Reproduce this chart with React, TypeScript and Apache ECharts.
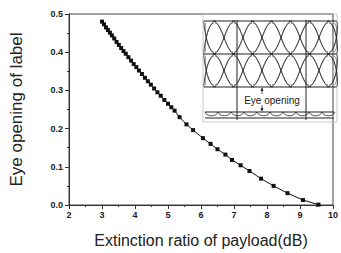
import React, { useEffect, useRef } from "react";
import * as echarts from "echarts";

const extinctionRatio = [
  3.0, 3.06, 3.12, 3.18, 3.24, 3.3, 3.37, 3.44, 3.51, 3.58, 3.65, 3.72, 3.8, 3.88, 3.96,
  4.04, 4.12, 4.21, 4.3, 4.39, 4.48, 4.58, 4.68, 4.78, 4.89, 5.0, 5.1, 5.2, 5.35, 5.56,
  5.76, 6.06, 6.29, 6.5, 6.74, 6.94, 7.2, 7.47, 7.82, 8.2, 8.62, 9.09, 9.56,
];
const eyeOpening = [
  0.48, 0.473, 0.465, 0.458, 0.451, 0.444, 0.436, 0.427, 0.419, 0.411, 0.403, 0.396, 0.387,
  0.378, 0.369, 0.361, 0.352, 0.343, 0.333, 0.324, 0.315, 0.305, 0.295, 0.286, 0.275, 0.265,
  0.256, 0.247, 0.23, 0.211, 0.196, 0.175, 0.16, 0.146, 0.132, 0.118, 0.104, 0.089, 0.069,
  0.05, 0.031, 0.013, 0.001,
];
const xTitle = "Extinction ratio of payload(dB)";
const yTitle = "Eye opening of label";
const insetLabel = "Eye opening";

function insetGraphics() {
  const els: any[] = [];
  const ink = "#222";
  const curve = (x1: number, y1: number, x2: number, y2: number, cx1: number, cy1: number, cx2: number, cy2: number, w = 0.8) => ({
    type: "bezierCurve",
    shape: { x1, y1, x2, y2, cpx1: cx1, cpy1: cy1, cpx2: cx2, cpy2: cy2 },
    style: { stroke: ink, lineWidth: w, fill: null },
    silent: true,
  });
  // frame
  els.push({ type: "rect", shape: { x: 203, y: 14, width: 134, height: 108 }, style: { fill: "rgba(0,0,0,0)", stroke: "#bbb", lineWidth: 0.8 }, silent: true });
  // eye rows: S-shaped transitions crossing at regular points
  const rows = [
    [21, 54],
    [54, 87],
  ];
  rows.forEach(([y0, y1]) => {
    for (let k = 0; k < 8; k++) {
      const xc = 205 + k * 19;
      const h = 11;
      const xa = Math.max(204, xc - h);
      const xb = Math.min(336, xc + h);
      els.push(curve(xa, y0, xb, y1, xc - 2, y0, xc + 2, y1));
      els.push(curve(xa, y1, xb, y0, xc - 2, y1, xc + 2, y0));
      els.push(curve(xa + 2, y0 + 2, xb - 2, y1 - 2, xc - 1, y0 + 3, xc + 1, y1 - 3, 0.5));
      els.push(curve(xa + 2, y1 - 2, xb - 2, y0 + 2, xc - 1, y1 - 3, xc + 1, y0 + 3, 0.5));
    }
  });
  // horizontal rails
  [21, 54, 87].forEach((y) =>
    els.push({ type: "line", shape: { x1: 204, y1: y, x2: 336, y2: y }, style: { stroke: ink, lineWidth: 1.1 }, silent: true })
  );
  // bottom (label) band
  [112, 118].forEach((y) =>
    els.push({ type: "line", shape: { x1: 205, y1: y, x2: 334, y2: y }, style: { stroke: ink, lineWidth: 1.2 }, silent: true })
  );
  for (let i = 0; i < 10; i++) {
    const x = 205 + i * 13;
    els.push(curve(x, 112, x + 13, 112, x + 2, 117, x + 11, 117));
  }
  // vertical markers
  [237, 306].forEach((x) =>
    els.push({ type: "line", shape: { x1: x, y1: 20, x2: x, y2: 120 }, style: { stroke: ink, lineWidth: 1 }, silent: true })
  );
  // arrows
  els.push({ type: "line", shape: { x1: 262, y1: 88, x2: 262, y2: 94 }, style: { stroke: ink, lineWidth: 0.8 }, silent: true });
  els.push({ type: "polygon", shape: { points: [[260.5, 91], [262, 87.5], [263.5, 91]] }, style: { fill: ink }, silent: true });
  els.push({
    type: "text",
    x: 272,
    y: 100,
    style: { text: insetLabel, fontSize: 10, fontFamily: "Liberation Sans, Arial", fill: ink, align: "center", verticalAlign: "middle", backgroundColor: "#fff" },
    silent: true,
  });
  els.push({ type: "line", shape: { x1: 262, y1: 105, x2: 262, y2: 111 }, style: { stroke: ink, lineWidth: 0.8 }, silent: true });
  els.push({ type: "polygon", shape: { points: [[260.5, 108], [262, 111.5], [263.5, 108]] }, style: { fill: ink }, silent: true });
  return els;
}

export default function App() {
  const ref = useRef<HTMLDivElement>(null);
  useEffect(() => {
    if (!ref.current) return;
    const chart = echarts.init(ref.current, undefined, { renderer: "svg" });
    const font = "Liberation Sans, Arial, sans-serif";
    chart.setOption({
      animation: false,
      backgroundColor: "#fff",
      grid: { left: 64, right: 4, top: 14, bottom: 42, show: true, borderColor: "#444", borderWidth: 1 },
      xAxis: {
        type: "value",
        min: 2,
        max: 10,
        interval: 1,
        name: xTitle,
        nameLocation: "middle",
        nameGap: 27,
        nameTextStyle: { fontSize: 16, fontFamily: font, color: "#222" },
        axisLine: { lineStyle: { color: "#333" } },
        axisTick: { length: 4, lineStyle: { color: "#333" } },
        minorTick: { show: true, splitNumber: 2, length: 2, lineStyle: { color: "#333" } },
        splitLine: { show: false },
        axisLabel: { fontSize: 9, fontFamily: font, color: "#222", margin: 5, fontWeight: "bold" },
      },
      yAxis: {
        type: "value",
        min: 0,
        max: 0.5,
        interval: 0.1,
        name: yTitle,
        nameLocation: "middle",
        nameGap: 44,
        nameTextStyle: { fontSize: 17, fontFamily: font, color: "#222" },
        axisLine: { show: true, lineStyle: { color: "#333" } },
        axisTick: { show: true, length: 4, lineStyle: { color: "#333" } },
        minorTick: { show: true, splitNumber: 2, length: 2, lineStyle: { color: "#333" } },
        splitLine: { show: false },
        axisLabel: { fontSize: 9, fontFamily: font, color: "#222", margin: 6, fontWeight: "bold", formatter: (v: number) => v.toFixed(1) },
      },
      series: [
        {
          type: "line",
          data: extinctionRatio.map((x, i) => [x, eyeOpening[i]]),
          symbol: "rect",
          symbolSize: 4,
          showSymbol: true,
          lineStyle: { color: "#111", width: 1 },
          itemStyle: { color: "#111" },
          z: 3,
        },
      ],
      graphic: insetGraphics(),
    });
    return () => chart.dispose();
  }, []);
  return <div ref={ref} style={{ position: "fixed", left: 0, top: 0, width: 341, height: 253 }} />;
}
